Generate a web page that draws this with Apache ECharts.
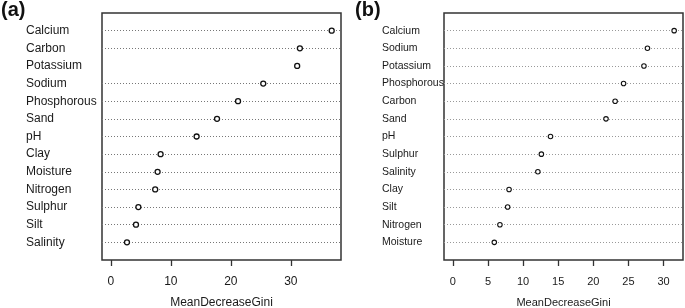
<!DOCTYPE html>
<html>
<head>
<meta charset="utf-8">
<script src="https://cdn.jsdelivr.net/npm/echarts@6/dist/echarts.min.js"></script>
<style>
  html, body { margin: 0; padding: 0; background: #fff; }
  #chart { width: 685px; height: 308px; }
</style>
</head>
<body>
<div id="chart"></div>
<script>
  // panel (a): variables top to bottom, with their MeanDecreaseGini
  var rowsA = ['Calcium', 'Carbon', 'Potassium', 'Sodium', 'Phosphorous', 'Sand', 'pH',
    'Clay', 'Moisture', 'Nitrogen', 'Sulphur', 'Silt', 'Salinity'];
  var giniA = [36.8, 31.5, 31.05, 25.4, 21.2, 17.7, 14.3, 8.3, 7.8, 7.4, 4.6, 4.2, 2.7];
  var noGuideA = ['Potassium'];   // no dotted guide line drawn for this row in the source
  var ticksA = [0, 10, 20, 30];

  // panel (b)
  var rowsB = ['Calcium', 'Sodium', 'Potassium', 'Phosphorous', 'Carbon', 'Sand', 'pH',
    'Sulphur', 'Salinity', 'Clay', 'Silt', 'Nitrogen', 'Moisture'];
  var giniB = [31.5, 27.7, 27.2, 24.3, 23.1, 21.8, 13.9, 12.6, 12.1, 8.0, 7.8, 6.7, 5.9];
  var noGuideB = [];
  var ticksB = [0, 5, 10, 15, 20, 25, 30];

  var xName = 'MeanDecreaseGini';

  var chart = echarts.init(document.getElementById('chart'), null, {renderer: 'canvas'});

  // dotchart puts row i (top to bottom) at y = n - i, plot runs 0..n+1
  function points(rows, vals) {
    var n = rows.length;
    return vals.map(function (v, i) { return [v, n - i]; });
  }
  function guides(rows, skip) {
    var n = rows.length;
    var out = [];
    rows.forEach(function (r, i) {
      if (skip.indexOf(r) < 0) out.push({yAxis: n - i});
    });
    return out;
  }
  function yAxisFor(rows, idx, font, size, margin) {
    var n = rows.length;
    return {
      type: 'value', gridIndex: idx, min: 0, max: n + 1, interval: 1,
      axisLine: {show: false}, axisTick: {show: false}, splitLine: {show: false},
      axisLabel: {
        align: 'left', margin: margin, color: '#1a1a1a', fontSize: size, fontFamily: font,
        formatter: function (v) { return (v >= 1 && v <= n) ? rows[n - v] : ''; }
      }
    };
  }
  function xAxisFor(ticks, idx, min, max, font, size) {
    return {
      type: 'value', gridIndex: idx, min: min, max: max,
      axisLine: {show: false}, splitLine: {show: false},
      axisTick: {show: true, length: 6, customValues: ticks, lineStyle: {color: '#333', width: 1.3}},
      axisLabel: {customValues: ticks, margin: 16, color: '#1a1a1a', fontSize: size, fontFamily: font},
      name: xName, nameLocation: 'middle', nameGap: 37,
      nameTextStyle: {color: '#1a1a1a', fontSize: size, fontFamily: font}
    };
  }

  var fontA = 'Liberation Sans, Arial, sans-serif';
  var fontB = 'Liberation Sans Narrow, Liberation Sans, sans-serif';

  var option = {
    animation: false,
    backgroundColor: '#fff',
    title: [
      {text: '(a)', left: 1, top: 0, padding: 0,
        textStyle: {fontSize: 20, fontWeight: 'bold', color: '#111', fontFamily: fontA}},
      {text: '(b)', left: 355, top: 0, padding: 0,
        textStyle: {fontSize: 20, fontWeight: 'bold', color: '#111', fontFamily: fontA}}
    ],
    grid: [
      {left: 102, top: 13, width: 239, height: 247, show: true, borderColor: '#333', borderWidth: 1.5,
        outerBoundsMode: 'none'},
      {left: 444, top: 13, width: 239, height: 247, show: true, borderColor: '#333', borderWidth: 1.5,
        outerBoundsMode: 'none'}
    ],
    xAxis: [
      xAxisFor(ticksA, 0, -1.46, 38.35, fontA, 12),
      xAxisFor(ticksB, 1, -1.26, 32.76, fontB, 11)
    ],
    yAxis: [
      yAxisFor(rowsA, 0, fontA, 12, 76),
      yAxisFor(rowsB, 1, fontB, 10.5, 62)
    ],
    series: [
      {
        type: 'scatter', xAxisIndex: 0, yAxisIndex: 0,
        data: points(rowsA, giniA),
        symbol: 'circle', symbolSize: 5,
        itemStyle: {color: '#fff', borderColor: '#111', borderWidth: 1.3, opacity: 1},
        z: 5,
        markLine: {
          silent: true, symbol: 'none', label: {show: false},
          lineStyle: {color: '#777', type: [1, 2], width: 1},
          data: guides(rowsA, noGuideA)
        }
      },
      {
        type: 'scatter', xAxisIndex: 1, yAxisIndex: 1,
        data: points(rowsB, giniB),
        symbol: 'circle', symbolSize: 4.5,
        itemStyle: {color: '#fff', borderColor: '#111', borderWidth: 1.1, opacity: 1},
        z: 5,
        markLine: {
          silent: true, symbol: 'none', label: {show: false},
          lineStyle: {color: '#999', type: [1, 2], width: 1},
          data: guides(rowsB, noGuideB)
        }
      }
    ]
  };
  chart.setOption(option);
</script>
</body>
</html>
